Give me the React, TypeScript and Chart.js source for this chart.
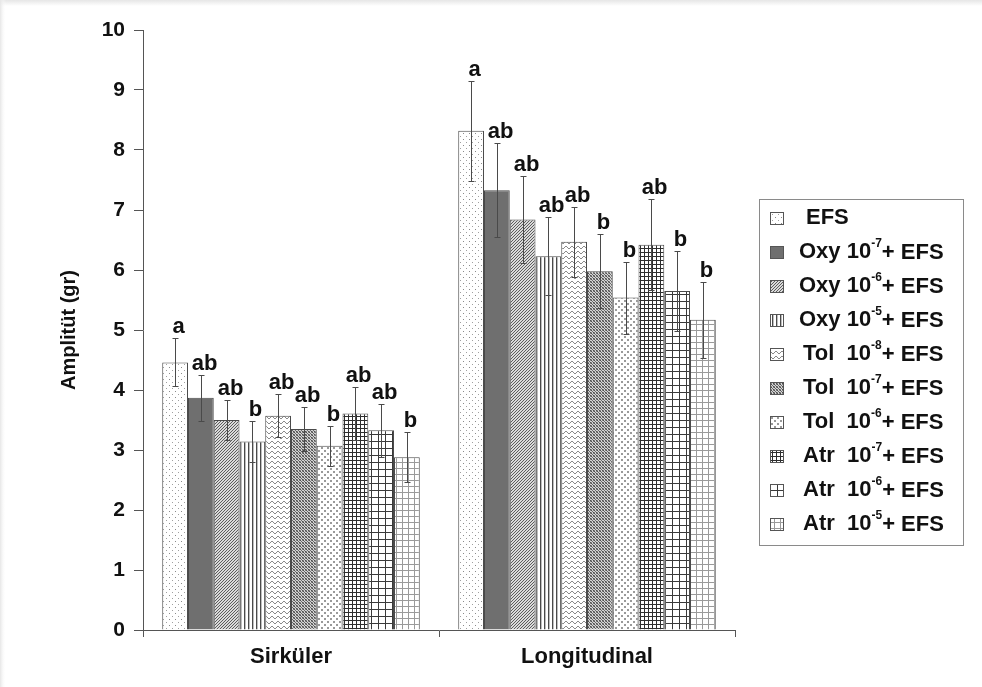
import React, { useEffect, useRef } from "react";
import { Chart, registerables } from "chart.js";

Chart.register(...registerables);

const categories = ["Sirküler", "Longitudinal"];

const seriesDrug = ["EFS", "Oxy", "Oxy", "Oxy", "Tol", "Tol", "Tol", "Atr", "Atr", "Atr"];
const seriesExp = ["", "-7", "-6", "-5", "-8", "-7", "-6", "-7", "-6", "-5"];

const sirkulerValues = [4.46, 3.87, 3.5, 3.14, 3.57, 3.35, 3.07, 3.61, 3.33, 2.88];
const sirkulerErrors = [0.4, 0.38, 0.33, 0.34, 0.36, 0.37, 0.33, 0.44, 0.44, 0.42];
const sirkulerLetters = ["a", "ab", "ab", "b", "ab", "ab", "b", "ab", "ab", "b"];

const longitudinalValues = [8.32, 7.33, 6.84, 6.23, 6.47, 5.98, 5.54, 6.42, 5.65, 5.17];
const longitudinalErrors = [0.83, 0.78, 0.73, 0.65, 0.58, 0.62, 0.6, 0.76, 0.67, 0.63];
const longitudinalLetters = ["a", "ab", "ab", "ab", "ab", "b", "b", "ab", "b", "b"];

const yTicks = [0, 1, 2, 3, 4, 5, 6, 7, 8, 9, 10];

const FONT = "'Liberation Sans', Arial, sans-serif";

type Px = [number, number, string];

function tile(ctx: CanvasRenderingContext2D, w: number, h: number, bg: string, px: Px[]) {
  const c = document.createElement("canvas");
  c.width = w;
  c.height = h;
  const g = c.getContext("2d")!;
  g.fillStyle = bg;
  g.fillRect(0, 0, w, h);
  px.forEach(([x, y, col]) => {
    g.fillStyle = col;
    g.fillRect(x, y, 1, 1);
  });
  return ctx.createPattern(c, "repeat")!;
}

function gridTile(ctx: CanvasRenderingContext2D, size: number, col: string) {
  const px: Px[] = [];
  for (let i = 0; i < size; i++) {
    px.push([i, 0, col]);
    px.push([0, i, col]);
  }
  return tile(ctx, size, size, "#ffffff", px);
}

function makePatterns(ctx: CanvasRenderingContext2D): (CanvasPattern | string)[] {
  const d = "#5c5c5c";
  return [
    tile(ctx, 6, 6, "#ffffff", [[1, 1, "#8a8a8a"], [4, 4, "#a0a0a0"]]),
    "#6f6f6f",
    tile(ctx, 3, 3, "#dadada", [[0, 2, d], [1, 1, d], [2, 0, d]]),
    tile(ctx, 4, 1, "#ffffff", [[0, 0, "#4a4a4a"], [1, 0, "#bdbdbd"]]),
    tile(ctx, 6, 5, "#ffffff", [[0, 2, "#8a8a8a"], [1, 1, "#8a8a8a"], [2, 1, "#8a8a8a"], [3, 2, "#8a8a8a"], [4, 3, "#8a8a8a"], [5, 3, "#8a8a8a"]]),
    tile(ctx, 3, 3, "#d4d4d4", [[0, 0, "#4e4e4e"], [1, 1, "#6a6a6a"], [2, 2, "#4e4e4e"], [2, 0, "#888"], [0, 2, "#888"]]),
    tile(ctx, 6, 6, "#ffffff", [[0, 0, "#9a9a9a"], [1, 0, "#9a9a9a"], [0, 1, "#9a9a9a"], [1, 1, "#9a9a9a"], [3, 3, "#9a9a9a"], [4, 3, "#9a9a9a"], [3, 4, "#9a9a9a"], [4, 4, "#9a9a9a"]]),
    gridTile(ctx, 4, "#2e2e2e"),
    gridTile(ctx, 7, "#3a3a3a"),
    gridTile(ctx, 6, "#9a9a9a"),
  ];
}

const backgroundPlugin = {
  id: "bgFrame",
  beforeDraw(chart: any) {
    const { ctx, width, height } = chart;
    ctx.save();
    ctx.fillStyle = "#ffffff";
    ctx.fillRect(0, 0, width, height);
    const gt = ctx.createLinearGradient(0, 0, 0, 6);
    gt.addColorStop(0, "#e6e6e6");
    gt.addColorStop(1, "#ffffff");
    ctx.fillStyle = gt;
    ctx.fillRect(0, 0, width, 6);
    const gl = ctx.createLinearGradient(0, 0, 6, 0);
    gl.addColorStop(0, "#e6e6e6");
    gl.addColorStop(1, "rgba(255,255,255,0)");
    ctx.fillStyle = gl;
    ctx.fillRect(0, 0, 6, height);
    ctx.restore();
  },
};

const errorLetterPlugin = {
  id: "errLetters",
  afterDatasetsDraw(chart: any) {
    const { ctx } = chart;
    const y = chart.scales.y;
    const errs = [sirkulerErrors, longitudinalErrors];
    const vals = [sirkulerValues, longitudinalValues];
    const lets = [sirkulerLetters, longitudinalLetters];
    ctx.save();
    chart.data.datasets.forEach((_ds: any, i: number) => {
      const meta = chart.getDatasetMeta(i);
      meta.data.forEach((el: any, j: number) => {
        const v = vals[j][i];
        const e = errs[j][i];
        const x = Math.round(el.x) + 0.5;
        const yt = Math.round(y.getPixelForValue(v + e)) + 0.5;
        const yb = Math.round(y.getPixelForValue(v - e)) + 0.5;
        ctx.strokeStyle = "#4a4a4a";
        ctx.lineWidth = 1;
        ctx.beginPath();
        ctx.moveTo(x, yt);
        ctx.lineTo(x, yb);
        ctx.moveTo(x - 3, yt);
        ctx.lineTo(x + 3, yt);
        ctx.moveTo(x - 3, yb);
        ctx.lineTo(x + 3, yb);
        ctx.stroke();
        ctx.fillStyle = "#111";
        ctx.font = `bold 22px ${FONT}`;
        ctx.textAlign = "center";
        ctx.textBaseline = "alphabetic";
        ctx.fillText(lets[j][i], x + 3, yt - 6);
      });
    });
    ctx.restore();
  },
};

const legendPlugin = {
  id: "customLegend",
  afterDraw(chart: any) {
    const { ctx } = chart;
    const patterns = chart.data.datasets.map((d: any) => d.backgroundColor);
    const boxL = 759.5, boxT = 199.5, boxR = 963.5, boxB = 545.5;
    ctx.save();
    ctx.strokeStyle = "#8a8a8a";
    ctx.lineWidth = 1;
    ctx.strokeRect(boxL, boxT, boxR - boxL, boxB - boxT);
    const startY = 218;
    const step = 34;
    seriesDrug.forEach((drug, i) => {
      const cy = Math.round(startY + i * step);
      ctx.fillStyle = patterns[i];
      ctx.fillRect(770, cy - 6, 14, 13);
      ctx.strokeStyle = "#555";
      ctx.strokeRect(770.5, cy - 5.5, 13, 12);
      ctx.fillStyle = "#111";
      ctx.textBaseline = "middle";
      ctx.textAlign = "left";
      ctx.font = `bold 22px ${FONT}`;
      if (!seriesExp[i]) {
        ctx.fillText(drug, 806, cy);
        return;
      }
      let x = drug === "Oxy" ? 799 : 803;
      const prefix = drug === "Oxy" ? `${drug} 10` : `${drug}  10`;
      ctx.fillText(prefix, x, cy);
      x += ctx.measureText(prefix).width;
      ctx.font = `bold 12px ${FONT}`;
      ctx.fillText(seriesExp[i], x, cy - 8);
      x += ctx.measureText(seriesExp[i]).width;
      ctx.font = `bold 22px ${FONT}`;
      ctx.fillText("+ EFS", x, cy + 1);
    });
    ctx.restore();
  },
};

export default function App() {
  const canvasRef = useRef<HTMLCanvasElement>(null);

  useEffect(() => {
    document.body.style.margin = "0";
    const canvas = canvasRef.current!;
    const ctx = canvas.getContext("2d")!;
    const patterns = makePatterns(ctx);

    const datasets = seriesDrug.map((drug, i) => ({
      label: seriesExp[i] ? `${drug} 10^${seriesExp[i]} + EFS` : drug,
      data: [sirkulerValues[i], longitudinalValues[i]],
      backgroundColor: patterns[i],
      borderColor: "#4a4a4a",
      borderWidth: 1,
      barPercentage: 1,
      categoryPercentage: 0.87,
    }));

    const chart = new Chart(ctx, {
      type: "bar",
      data: { labels: categories, datasets },
      options: {
        animation: false,
        responsive: false,
        devicePixelRatio: 1,
        layout: { padding: { top: 30, right: 247, bottom: 0, left: 0 } },
        plugins: {
          legend: { display: false },
          tooltip: { enabled: false },
        },
        scales: {
          x: {
            grid: {
              offset: true,
              drawOnChartArea: false,
              tickLength: 7,
              color: "#555",
            },
            border: { color: "#555", width: 1 },
            ticks: {
              color: "#111",
              font: { family: FONT, size: 22, weight: "bold" },
              padding: 7,
            },
            afterFit(scale: any) {
              scale.height = 57;
            },
          },
          y: {
            min: 0,
            max: 10,
            afterBuildTicks(scale: any) {
              scale.ticks = yTicks.map((v) => ({ value: v }));
            },
            grid: {
              drawOnChartArea: false,
              tickLength: 9,
              color: "#555",
            },
            border: { color: "#555", width: 1 },
            ticks: {
              color: "#111",
              font: { family: FONT, size: 21, weight: "bold" },
              padding: 9,
            },
            title: {
              display: true,
              text: "Amplitüt (gr)",
              color: "#111",
              font: { family: FONT, size: 20, weight: "bold" },
              padding: { top: 57, bottom: 0 },
            },
            afterFit(scale: any) {
              scale.width = 143;
            },
          },
        },
      },
      plugins: [backgroundPlugin, errorLetterPlugin, legendPlugin],
    } as any);

    return () => chart.destroy();
  }, []);

  return (
    <div style={{ width: 982, height: 687, position: "relative" }}>
      <canvas ref={canvasRef} width={982} height={687} style={{ display: "block" }} />
    </div>
  );
}
